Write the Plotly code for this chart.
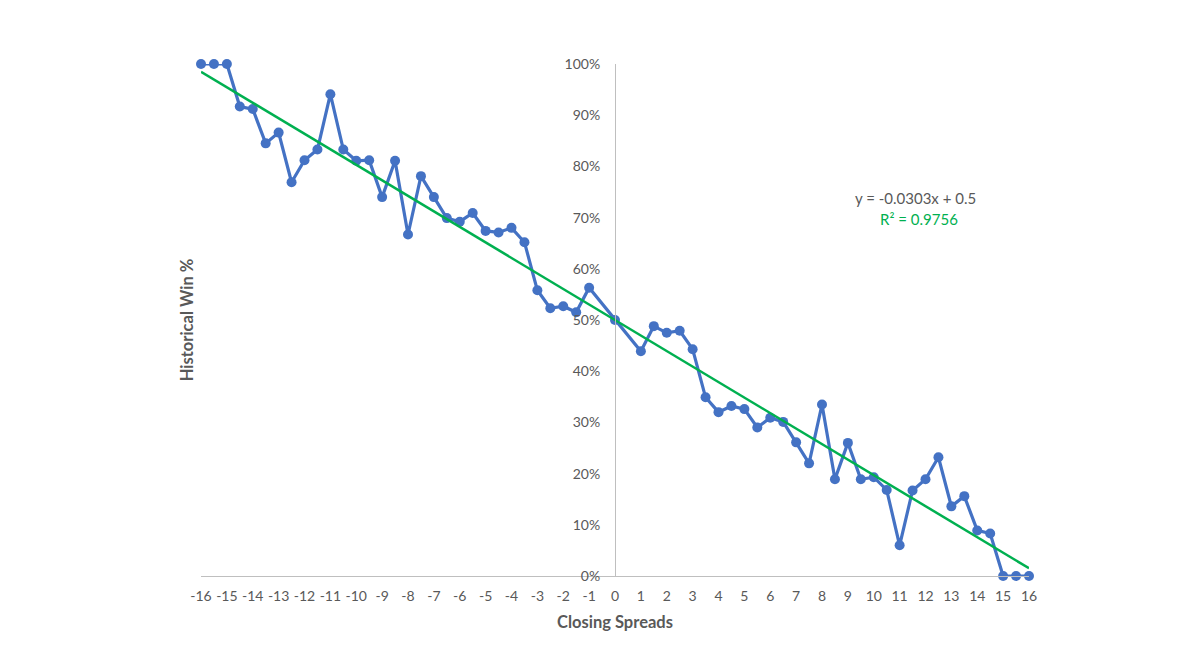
import plotly.graph_objects as go

# Data
spreads = [-16, -15.5, -15, -14.5, -14, -13.5, -13, -12.5, -12, -11.5, -11, -10.5,
           -10, -9.5, -9, -8.5, -8, -7.5, -7, -6.5, -6, -5.5, -5, -4.5, -4, -3.5,
           -3, -2.5, -2, -1.5, -1, 0, 1, 1.5, 2, 2.5, 3, 3.5, 4, 4.5, 5, 5.5, 6,
           6.5, 7, 7.5, 8, 8.5, 9, 9.5, 10, 10.5, 11, 11.5, 12, 12.5, 13, 13.5,
           14, 14.5, 15, 15.5, 16]
win_pct = [1.0, 1.0, 1.0, 0.917, 0.912, 0.845, 0.866, 0.769, 0.812, 0.833, 0.941, 0.833,
           0.811, 0.812, 0.740, 0.811, 0.667, 0.781, 0.740, 0.699, 0.692, 0.709, 0.674, 0.671,
           0.680, 0.652, 0.558, 0.523, 0.527, 0.515, 0.563, 0.50, 0.439, 0.488, 0.475, 0.479,
           0.443, 0.349, 0.320, 0.332, 0.326, 0.290, 0.309, 0.301, 0.261, 0.220, 0.335,
           0.189, 0.260, 0.189, 0.193, 0.168, 0.060, 0.167, 0.189, 0.232, 0.136, 0.156,
           0.089, 0.083, 0.0, 0.0, 0.0]
trend_slope = -0.0303
trend_intercept = 0.5
trend_x = [-16, 16]
trend_y = [trend_intercept + trend_slope * v for v in trend_x]
x_ticks = list(range(-16, 17))
y_ticks = [i / 10 for i in range(11)]

FONT = "Lato, 'Open Sans', sans-serif"
GRAY = "#595959"

fig = go.Figure()
fig.add_trace(go.Scatter(
    x=spreads, y=win_pct, mode="lines+markers",
    line=dict(color="#4472C4", width=3.2),
    marker=dict(color="#4472C4", size=10),
    cliponaxis=False, showlegend=False))
fig.add_trace(go.Scatter(
    x=trend_x, y=trend_y, mode="lines",
    line=dict(color="#00B050", width=2.5),
    cliponaxis=False, showlegend=False))

fig.update_layout(
    width=1185, height=658,
    margin=dict(l=193, r=164, t=56, b=90),
    paper_bgcolor="white", plot_bgcolor="white",
    font=dict(family=FONT, size=14, color=GRAY),
    xaxis=dict(range=[-16, 16], tickvals=x_ticks, ticktext=[str(t) for t in x_ticks],
               showgrid=False, zeroline=False, showline=True, linecolor="#BFBFBF",
               linewidth=1, ticks="", ticklabelstandoff=7,
               tickfont=dict(family=FONT, size=14, color=GRAY)),
    yaxis=dict(range=[0, 1], tickvals=y_ticks, tickformat=".0%",
               showgrid=False, zeroline=False, showline=True, linecolor="#BFBFBF",
               linewidth=1, ticks="", anchor="free", position=0.5,
               ticklabelstandoff=12,
               tickfont=dict(family=FONT, size=14, color=GRAY)),
    annotations=[
        dict(text="<b>Closing Spreads</b>", xref="paper", yref="paper", x=0.5, y=-0.09,
             xanchor="center", yanchor="middle", showarrow=False,
             font=dict(family=FONT, size=16.5, color=GRAY)),
        dict(text="<b>Historical Win %</b>", xref="paper", yref="paper", x=-0.0165, y=0.5,
             xanchor="center", yanchor="middle", showarrow=False, textangle=-90,
             font=dict(family=FONT, size=16.5, color=GRAY)),
        dict(text="y = -0.0303x + 0.5", xref="x", yref="y", x=11.6, y=0.738,
             xanchor="center", yanchor="middle", showarrow=False,
             font=dict(family=FONT, size=15, color=GRAY)),
        dict(text="R² = 0.9756", xref="x", yref="y", x=11.75, y=0.698,
             xanchor="center", yanchor="middle", showarrow=False,
             font=dict(family=FONT, size=15, color="#00B050")),
    ],
)

fig.write_html("out.html")
